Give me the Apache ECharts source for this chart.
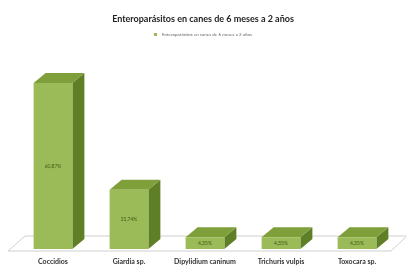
<!DOCTYPE html>
<html>
<head>
<meta charset="utf-8">
<script src="https://cdn.jsdelivr.net/npm/echarts@6/dist/echarts.min.js"></script>
<style>
  html, body { margin: 0; padding: 0; background: #fff; }
  #chart { width: 406px; height: 265px; }
</style>
</head>
<body>
<div id="chart"></div>
<script>
// datos
const categories = ['Coccidios', 'Giardia sp.', 'Dipylidium caninum', 'Trichuris vulpis', 'Toxocara sp.'];
const values = [60.87, 21.74, 4.35, 4.35, 4.35];
const seriesName = 'Enteroparásitos en canes de 6 meses a 2 años';

const chart = echarts.init(document.getElementById('chart'));

// barra "3D": cara frontal + techo + lateral
function renderBar(params, api) {
  const cat = api.value(0);
  const v = api.value(1);
  const top = api.coord([cat, v]);
  const base = api.coord([cat, 0]);
  const bw = api.size([1, 0])[0] * 0.51;
  const x0 = top[0] - bw / 2, x1 = top[0] + bw / 2;
  const dx = 12, dy = 10;
  return {
    type: 'group',
    children: [
      { type: 'polygon', shape: { points: [[x1, top[1]], [x1 + dx, top[1] - dy], [x1 + dx, base[1] - dy], [x1, base[1]]] },
        style: { fill: '#5f7f26' } },
      { type: 'polygon', shape: { points: [[x0, top[1]], [x1, top[1]], [x1 + dx, top[1] - dy], [x0 + dx, top[1] - dy]] },
        style: { fill: '#7f9f3a' } },
      { type: 'rect', shape: { x: x0, y: top[1], width: bw, height: base[1] - top[1] },
        style: { fill: '#9bbb59' } },
      { type: 'text', x: top[0], y: (top[1] + base[1]) / 2,
        style: { text: v.toFixed(2).replace('.', ',') + '%', fill: '#3d5a12', fontSize: 5,
          fontFamily: 'Lato', align: 'center', verticalAlign: 'middle' } }
    ]
  };
}

// piso del grafico
function renderFloor(params, api) {
  const cs = params.coordSys;
  const b = cs.y + cs.height;
  return {
    type: 'polygon',
    shape: { points: [[cs.x - 7, b + 2], [cs.x + cs.width - 4, b + 2], [cs.x + cs.width + 12, b - 13], [cs.x + 10, b - 13]] },
    style: { fill: '#fff', stroke: '#cfcfcf', lineWidth: 1 }
  };
}

chart.setOption({
  animation: false,
  textStyle: { fontFamily: 'Lato' },
  title: {
    text: 'Enteroparásitos en canes de 6 meses a 2 años',
    left: 'center', top: 10,
    textStyle: { fontSize: 9, fontWeight: 'bold', color: '#222', fontFamily: 'Lato' }
  },
  legend: {
    data: [seriesName],
    top: 27, left: 'center',
    itemWidth: 3, itemHeight: 3, itemGap: 2,
    icon: 'rect',
    textStyle: { fontSize: 4.5, color: '#666', fontFamily: 'Lato' }
  },
  grid: { left: 15, right: 11, top: 58, bottom: 16 },
  xAxis: {
    type: 'category',
    data: categories,
    axisLine: { show: false },
    axisTick: { show: false },
    axisLabel: { interval: 0, margin: 9, fontSize: 7, fontWeight: 'bold', color: '#333', fontFamily: 'Lato' }
  },
  yAxis: {
    type: 'value', min: 0, max: 70,
    show: false
  },
  series: [
    {
      type: 'custom',
      name: 'piso',
      renderItem: renderFloor,
      data: [[0, 0]],
      z: 1,
      silent: true
    },
    {
      type: 'custom',
      name: seriesName,
      renderItem: renderBar,
      itemStyle: { color: '#9bbb59' },
      encode: { x: 0, y: 1 },
      data: values.map((v, i) => [i, v]),
      z: 2
    }
  ]
});
</script>
</body>
</html>
